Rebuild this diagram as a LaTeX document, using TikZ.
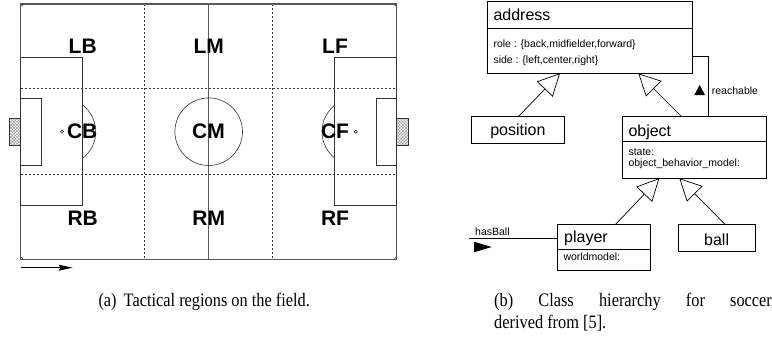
\documentclass[tikz,border=0pt]{standalone}
\usepackage{fontspec}
\setmainfont{Liberation Serif}
\setsansfont{Liberation Sans}
\newfontfamily\capfont[FakeStretch=0.86]{Liberation Serif}
\usetikzlibrary{arrows.meta,calc,patterns.meta}
\begin{document}
\begin{tikzpicture}[x=1pt,y=-1pt,
  fieldline/.style={draw=black!65, line width=1.1pt},
  thinline/.style={draw=black!80, line width=0.6pt},
  dotline/.style={draw=black!80, line width=0.7pt, dash pattern=on 2pt off 2pt},
  zone/.style={font=\sffamily\bfseries\fontsize{21}{21}\selectfont, inner sep=0pt},
  umlbox/.style={draw, line width=0.7pt, inner sep=0pt, outer sep=0pt, anchor=north west},
  bigtxt/.style={font=\sffamily\fontsize{16}{16}\selectfont, inner sep=0pt},
  smalltxt/.style={font=\sffamily\fontsize{10.5}{10.5}\selectfont, inner sep=0pt},
  captxt/.style={font=\capfont\fontsize{19}{22}\selectfont, inner sep=0pt},
  inh/.style={line width=0.7pt, -{Triangle[open, length=22pt, width=22pt]}},
]
\useasboundingbox (0,0) rectangle (772,338);

% ---------------- field ----------------
% goals
\foreach \gx/\gw in {9.3/11.4, 396.7/12}{
  \path[pattern={Lines[angle=45,distance=2.2pt,line width=0.35pt]}, pattern color=gray]
    (\gx,118.3) rectangle ++(\gw,27);
  \path[pattern={Lines[angle=-45,distance=2.2pt,line width=0.35pt]}, pattern color=gray]
    (\gx,118.3) rectangle ++(\gw,27);
  \draw[thinline] (\gx,118.3) rectangle ++(\gw,27);
}
% dotted region lines
\draw[dotline] (144.7,4) -- (144.7,259.3);
\draw[dotline] (272.7,4) -- (272.7,259.3);
\draw[dotline] (20.7,88.7) -- (396.7,88.7);
\draw[dotline] (20.7,174.7) -- (396.7,174.7);
% field lines
\draw[fieldline] (20.7,4) rectangle (396.7,259.3);
\draw[fieldline] (208.7,4) -- (208.7,259.3);
\draw[thinline] (208.7,131.7) circle (33.8);
\draw[thinline] (20.7,57.7) rectangle (82.7,205.7);
\draw[thinline] (334.7,57.7) rectangle (396.7,205.7);
\draw[thinline] (20.7,98.3) rectangle (41.3,165.1);
\draw[thinline] (376.3,98.3) rectangle (396.7,165.1);
\begin{scope}
  \clip (82.7,0) rectangle (130,300);
  \draw[thinline] (62,131.7) circle (33.7);
\end{scope}
\begin{scope}
  \clip (290,0) rectangle (334.7,300);
  \draw[thinline] (355.7,131.7) circle (33.7);
\end{scope}
\draw[thinline] (62,131.7) circle (1.6);
\draw[thinline] (355.7,131.7) circle (1.6);
\begin{scope}
  \clip (20.7,4) rectangle (396.7,259.3);
  \foreach \cx/\cy in {20.7/4, 396.7/4, 20.7/259.3, 396.7/259.3}
    \draw[thinline] (\cx,\cy) circle (2.2);
\end{scope}
% zone labels
\node[zone] (LB) at (82.7,45.8) {LB};
\node[zone] (LM) at (208.7,45.8) {LM};
\node[zone] (LF) at (335,45.8) {LF};
\node[zone] (CB) at (82.2,131.7) {CB};
\node[zone] (CM) at (208.5,131.7) {CM};
\node[zone] (CF) at (335,131.7) {CF};
\node[zone] (RB) at (82.7,218.2) {RB};
\node[zone] (RM) at (208.7,218.2) {RM};
\node[zone] (RF) at (335,218.2) {RF};
% direction arrow
\coordinate (arA) at (20.7,267.7);
\coordinate (arB) at (72.7,267.7);
\draw[line width=1pt,-{Stealth[length=14pt,width=6pt,inset=2pt]}] (arA) -- (arB);

% ---------------- class diagram ----------------
\node[umlbox, minimum width=205pt, minimum height=72.3pt] (address) at (487.3,1) {};
\draw[line width=0.7pt] (address.west |- 0,28.3) -- (address.east |- 0,28.3);
\node[bigtxt, anchor=base west] (addresst) at (493.3,20) {address};
\node[smalltxt, anchor=base west] (rolet) at (493.3,47.3) {role : \{back,midfielder,forward\}};
\node[smalltxt, anchor=base west] (sidet) at (493.3,63.7) {side : \{left,center,right\}};

\node[umlbox, minimum width=92.3pt, minimum height=26.6pt] (position) at (471.7,116.7) {};
\node[bigtxt, anchor=base] (positiont) at (517.85,135) {position};

\node[umlbox, minimum width=144.4pt, minimum height=61.6pt] (object) at (622.3,116.7) {};
\draw[line width=0.7pt] (object.west |- 0,141.7) -- (object.east |- 0,141.7);
\node[bigtxt, anchor=base west] (objectt) at (628.3,136) {object};
\node[smalltxt, anchor=base west] (statet) at (628.3,155) {state:};
\node[smalltxt, anchor=base west] (obmt) at (628.3,166.5) {object\_behavior\_model:};

\node[umlbox, minimum width=92.7pt, minimum height=45.7pt] (player) at (557.3,224.3) {};
\draw[line width=0.7pt] (player.west |- 0,249) -- (player.east |- 0,249);
\node[bigtxt, anchor=base west] (playert) at (564,242.3) {player};
\node[smalltxt, anchor=base west] (wmt) at (563.3,260.7) {worldmodel:};

\node[umlbox, minimum width=76.7pt, minimum height=26.7pt] (ball) at (678.3,224.3) {};
\node[bigtxt, anchor=base] (ballt) at (716.65,245) {ball};

% inheritance
\draw[inh] ($(position.north west)+(46.6,0)$) -- ($(address.south west)+(72.7,0)$);
\draw[inh] ($(object.north west)+(59.4,0)$) -- ($(address.south west)+(151,0)$);
\draw[inh] ($(player.north west)+(58.4,0)$) -- ($(object.south west)+(37,0)$);
\draw[inh] ($(ball.north west)+(46.7,0)$) -- ($(object.south west)+(57,0)$);

% reachable association
\draw[line width=0.7pt] (address.east |- 0,56) -| ($(object.north west)+(86,0)$);
\fill (699.7,85) -- (705,95) -- (694.3,95) -- cycle;
\node[smalltxt, anchor=base west] (reacht) at (711.7,94.7) {reachable};

% hasBall association
\coordinate (hbA) at (469.3,238.3);
\draw[line width=0.7pt] (hbA) -- (player.west |- hbA);
\fill (474,241.7) -- (491.7,247) -- (474,252.3) -- cycle;
\node[smalltxt, anchor=base west] (hbt) at (475,235.7) {hasBall};

% ---------------- captions ----------------
\node[captxt, anchor=base west] (capa) at (98.3,306) {(a)\hspace{3pt} Tactical regions on the field.};
\node[captxt, anchor=base west] (capb1) at (494,306) {\makebox[277.7pt][s]{(b) Class hierarchy for soccer}};
\node[captxt, anchor=base west] (capb2) at (494,328) {derived from [5].};
\end{tikzpicture}
\end{document}
